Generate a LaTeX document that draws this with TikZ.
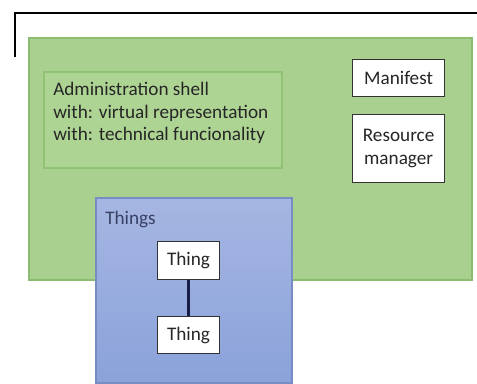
\documentclass[tikz,border=0pt]{standalone}
\usepackage{fontspec}
\setmainfont{Carlito}
\usepackage{tikz}
\usepackage{xcolor}
\usetikzlibrary{positioning,fit}

\definecolor{assetgreen}{RGB}{169,208,142}
\definecolor{assetedge}{RGB}{140,188,112}
\definecolor{shellgreen}{RGB}{174,212,148}
\definecolor{shelledge}{RGB}{146,194,118}
\definecolor{thingstop}{RGB}{166,182,226}
\definecolor{thingsbot}{RGB}{138,162,218}
\definecolor{thingsedge}{RGB}{118,140,194}
\definecolor{textdark}{RGB}{38,38,38}
\definecolor{linknavy}{RGB}{22,30,72}

\begin{document}
\begin{tikzpicture}[
x=0.75pt,y=-0.75pt,
every node/.style={font=\fontsize{14.4}{17}\selectfont,text=textdark},
area/.style={inner sep=0pt,outer sep=0pt},
whitebox/.style={draw=black!80,fill=white,line width=0.9pt,align=center,inner sep=2pt},
link/.style={draw=linknavy,line width=2pt}
]
\useasboundingbox (0,0) rectangle (477,383);
% outer frame corner
\draw[line width=1.4pt] (15,57) |- (477,13);
% asset area
\node[area,fit={(29,38) (472,280)},fill=assetgreen,draw=assetedge,line width=0.8pt] (asset) {};
\node[area,fit={(44,72) (282,168)},fill=shellgreen,draw=shelledge,line width=0.8pt] (shell) {};
\node[anchor=north west,align=left,inner sep=0pt] (shelltext) at (53,82)
  {Administration shell\\with: virtual representation\\with: technical funcionality};
\node[whitebox,minimum width=69pt,minimum height=27.75pt,anchor=north west] (manifest) at (352,59) {Manifest};
\node[whitebox,minimum width=69pt,minimum height=51pt,below=12.75pt of manifest] (resmgr) {Resource\\manager};
% things
\node[area,fit={(96,198) (292,383)},top color=thingstop,bottom color=thingsbot,draw=thingsedge,line width=0.8pt] (things) {};
\node[anchor=west,inner sep=0pt,text=linknavy!85] (thingslabel) at (105,219) {Things};
\node[whitebox,minimum width=47pt,minimum height=28pt] (thing1) at (188.5,260.5) {Thing};
\node[whitebox,minimum width=47pt,minimum height=28pt,below=27pt of thing1] (thing2) {Thing};
\draw[link] (thing1) -- (thing2);
\end{tikzpicture}
\end{document}
